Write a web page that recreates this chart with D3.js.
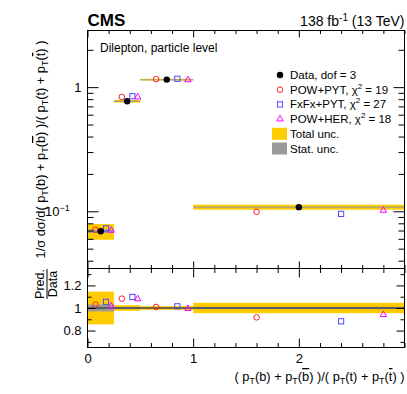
<!DOCTYPE html>
<html>
<head>
<meta charset="utf-8">
<script src="https://cdn.jsdelivr.net/npm/d3@7"></script>
<style>
  body { margin: 0; background: white; }
  svg { font-family: "Liberation Sans", Arial, sans-serif; }
</style>
</head>
<body>
<svg width="407" height="394"></svg>
<script>
// 数据
var binEdges = [0, 0.25, 0.5, 1, 3];
var dataVals = [0.069, 0.77, 1.15, 0.108];
var totUnc = [0.145, 0.025, 0.016, 0.046];
var statUnc = [0.03, 0.01, 0.005, 0.01];
var powPytRatio = [1.03, 1.083, 1.009, 0.917];
var fxfxRatio = [1.055, 1.098, 1.015, 0.882];
var powHerRatio = [1.017, 1.08, 0.995, 0.941];
var modelNames = ['POW+PYT', 'FxFx+PYT', 'POW+HER'];
var chi2Vals = [19, 27, 18];
var xTicks = [0, 1, 2];
var yTicks = [0.1, 1];
var ratioTicks = [0.8, 1, 1.2];

// 一些常量
var LEFT = 87.5, RIGHT = 404.5;
var TOP = 30.5, MID = 268.5, BOTTOM = 347.5;
var POINT_POS = {data: 0.5, pyt: 0.3, fxfx: 0.7, her: 0.9};
var COLORS = {pyt: '#ff2020', fxfx: '#4a4aff', her: '#ff00ff', tot: '#ffcc00', stat: '#999999'};

var svg = d3.select('svg');

var x = d3.scaleLinear().domain([0, 3]).range([LEFT, RIGHT]);
var y = d3.scaleLog().domain([0.0346, 2.86]).range([MID, TOP]);
var yr = d3.scaleLinear().domain([0.65, 1.35]).range([BOTTOM, MID]);

// 每个bin的数据
var bins = dataVals.map(function(v, i) {
    return {lo: binEdges[i], hi: binEdges[i + 1], val: v, tot: totUnc[i], stat: statUnc[i],
        pyt: powPytRatio[i], fxfx: fxfxRatio[i], her: powHerRatio[i]};
});
function px(d, f) { return x(d.lo + (d.hi - d.lo) * f); }

// 不确定度带
function bands(g, yfn, ref) {
    g.selectAll('.tot').data(bins).enter().append('rect')
        .attr('x', function(d) { return x(d.lo); })
        .attr('width', function(d) { return x(d.hi) - x(d.lo); })
        .attr('y', function(d) { return yfn(ref(d) * (1 + d.tot)); })
        .attr('height', function(d) { return yfn(ref(d) * (1 - d.tot)) - yfn(ref(d) * (1 + d.tot)); })
        .attr('fill', COLORS.tot);
    g.selectAll('.stat').data(bins).enter().append('rect')
        .attr('x', function(d) { return x(d.lo); })
        .attr('width', function(d) { return x(d.hi) - x(d.lo); })
        .attr('y', function(d) { return yfn(ref(d) * (1 + d.stat)); })
        .attr('height', function(d) { return Math.max(1, yfn(ref(d) * (1 - d.stat)) - yfn(ref(d) * (1 + d.stat))); })
        .attr('fill', COLORS.stat);
}

var tri = d3.symbol().type(d3.symbolTriangle).size(18);
function markers(g, yfn, ref, withData) {
    g.selectAll('.pyt').data(bins).enter().append('circle')
        .attr('cx', function(d) { return px(d, POINT_POS.pyt); })
        .attr('cy', function(d) { return yfn(ref(d) * d.pyt); })
        .attr('r', 2.8).attr('fill', 'none').attr('stroke', COLORS.pyt);
    g.selectAll('.fxfx').data(bins).enter().append('rect')
        .attr('x', function(d) { return px(d, POINT_POS.fxfx) - 2.6; })
        .attr('y', function(d) { return yfn(ref(d) * d.fxfx) - 2.6; })
        .attr('width', 5.2).attr('height', 5.2).attr('fill', 'none').attr('stroke', COLORS.fxfx);
    g.selectAll('.her').data(bins).enter().append('path')
        .attr('d', tri)
        .attr('transform', function(d) { return 'translate(' + px(d, POINT_POS.her) + ',' + yfn(ref(d) * d.her) + ')'; })
        .attr('fill', 'none').attr('stroke', COLORS.her);
    if (withData) {
        g.selectAll('.dat').data(bins).enter().append('circle')
            .attr('cx', function(d) { return px(d, POINT_POS.data); })
            .attr('cy', function(d) { return yfn(d.val); })
            .attr('r', 3.2).attr('fill', 'black');
    }
}

// 上面板
var up = svg.append('g');
bands(up, y, function(d) { return d.val; });
markers(up, y, function(d) { return d.val; }, true);

// 下面板 (比值)
var lo = svg.append('g');
bands(lo, yr, function(d) { return 1; });
lo.append('line').attr('x1', LEFT).attr('x2', RIGHT).attr('y1', yr(1)).attr('y2', yr(1))
    .attr('stroke', '#222').attr('stroke-width', 1);
markers(lo, yr, function(d) { return 1; }, false);

// 坐标轴
function minorRange(a, b, s) { var r = []; for (var v = a; v <= b + 1e-9; v += s) r.push(+v.toFixed(3)); return r; }
var xMinor = minorRange(0, 3, 0.2).filter(function(v) { return xTicks.indexOf(v) < 0; });
var yMinor = [0.04, 0.05, 0.06, 0.07, 0.08, 0.09, 0.2, 0.3, 0.4, 0.5, 0.6, 0.7, 0.8, 0.9, 2];
var rMinor = [0.7, 0.9, 1.1, 1.3];

function ax(gen, scale, vals, size, tr, fmt) {
    var a = gen(scale).tickValues(vals).tickSize(size).tickPadding(6)
        .tickFormat(fmt || function() { return ''; });
    var g = svg.append('g').attr('transform', tr).call(a);
    g.select('.domain').remove();
    g.selectAll('line').attr('stroke', 'black');
    return g;
}
// x 轴
ax(d3.axisTop, x, xTicks, -7, 'translate(0,' + TOP + ')');
ax(d3.axisTop, x, xMinor, -3.5, 'translate(0,' + TOP + ')');
ax(d3.axisBottom, x, xTicks, -7, 'translate(0,' + MID + ')');
ax(d3.axisBottom, x, xMinor, -3.5, 'translate(0,' + MID + ')');
ax(d3.axisTop, x, xTicks, -9, 'translate(0,' + MID + ')');
ax(d3.axisTop, x, xMinor, -4.5, 'translate(0,' + MID + ')');
var xl = ax(d3.axisBottom, x, xTicks, -9, 'translate(0,' + BOTTOM + ')', d3.format('d'));
xl.selectAll('text').attr('font-size', 13).attr('fill', 'black').attr('font-family', 'Liberation Sans, Arial, sans-serif');
ax(d3.axisBottom, x, xMinor, -4.5, 'translate(0,' + BOTTOM + ')');

// y 轴 (对数)
var yl = ax(d3.axisLeft, y, yTicks, -11, 'translate(' + LEFT + ',0)', function(d) { return d === 1 ? '1' : '10'; });
yl.selectAll('text').attr('font-size', 13).attr('fill', 'black').attr('font-family', 'Liberation Sans, Arial, sans-serif')
    .each(function(d) {
        if (d !== 1) {
            d3.select(this).attr('dx', '-0.9em');
            d3.select(this).append('tspan').attr('dy', -5).attr('font-size', 9).text('\u22121');
        }
    });
ax(d3.axisLeft, y, yMinor, -6, 'translate(' + LEFT + ',0)');
ax(d3.axisRight, y, yTicks, -11, 'translate(' + RIGHT + ',0)');
ax(d3.axisRight, y, yMinor, -6, 'translate(' + RIGHT + ',0)');

// 比值 y 轴
var rl = ax(d3.axisLeft, yr, ratioTicks, -8, 'translate(' + LEFT + ',0)', function(d) { return d === 1 ? '1' : d3.format('.1f')(d); });
rl.selectAll('text').attr('font-size', 13).attr('fill', 'black').attr('font-family', 'Liberation Sans, Arial, sans-serif');
ax(d3.axisLeft, yr, rMinor, -4, 'translate(' + LEFT + ',0)');
ax(d3.axisRight, yr, ratioTicks, -8, 'translate(' + RIGHT + ',0)');
ax(d3.axisRight, yr, rMinor, -4, 'translate(' + RIGHT + ',0)');

// 边框
svg.append('rect').attr('x', LEFT).attr('y', TOP).attr('width', RIGHT - LEFT).attr('height', BOTTOM - TOP)
    .attr('fill', 'none').attr('stroke', 'black').attr('stroke-width', 1);
svg.append('line').attr('x1', LEFT).attr('x2', RIGHT).attr('y1', MID).attr('y2', MID).attr('stroke', 'black');

// 标题文字
svg.append('text').attr('x', LEFT).attr('y', 26).attr('font-size', 17).attr('font-weight', 'bold').text('CMS');
var lumi = svg.append('text').attr('x', RIGHT).attr('y', 26).attr('font-size', 14).attr('text-anchor', 'end');
lumi.append('tspan').text('138 fb');
lumi.append('tspan').attr('dy', -5).attr('font-size', 10).text('-1');
lumi.append('tspan').attr('dy', 5).text(' (13 TeV)');
svg.append('text').attr('x', 100).attr('y', 52).attr('font-size', 12).text('Dilepton, particle level');

// 图例
var LEG_X = 280, LEG_Y = 75, LEG_DY = 14.7;
var leg = svg.append('g').attr('font-size', 11.5);
leg.append('circle').attr('cx', LEG_X).attr('cy', LEG_Y).attr('r', 3.2).attr('fill', 'black');
leg.append('text').attr('x', LEG_X + 10).attr('y', LEG_Y + 4).text('Data, dof = 3');
var keys = ['pyt', 'fxfx', 'her'];
keys.forEach(function(k, i) {
    var cy = LEG_Y + LEG_DY * (i + 1);
    if (k === 'pyt') leg.append('circle').attr('cx', LEG_X).attr('cy', cy).attr('r', 2.8).attr('fill', 'none').attr('stroke', COLORS.pyt);
    if (k === 'fxfx') leg.append('rect').attr('x', LEG_X - 2.6).attr('y', cy - 2.6).attr('width', 5.2).attr('height', 5.2).attr('fill', 'none').attr('stroke', COLORS.fxfx);
    if (k === 'her') leg.append('path').attr('d', tri).attr('transform', 'translate(' + LEG_X + ',' + cy + ')').attr('fill', 'none').attr('stroke', COLORS.her);
    var t = leg.append('text').attr('x', LEG_X + 10).attr('y', cy + 4);
    t.append('tspan').text(modelNames[i] + ', \u03c7');
    t.append('tspan').attr('dy', -5).attr('font-size', 8).text('2');
    t.append('tspan').attr('dy', 5).text(' = ' + chi2Vals[i]);
});
[['Total unc.', COLORS.tot], ['Stat. unc.', COLORS.stat]].forEach(function(e, i) {
    var cy = LEG_Y + LEG_DY * (i + 4);
    leg.append('rect').attr('x', LEG_X - 8).attr('y', cy - 6).attr('width', 15).attr('height', 12).attr('fill', e[1]);
    leg.append('text').attr('x', LEG_X + 10).attr('y', cy + 4).text(e[0]);
});

// 轴标题 (下标用 tspan)
function ptText(t, arg, bar, sz) {
    t.append('tspan').text('p');
    t.append('tspan').attr('dy', 3).attr('font-size', sz * 0.7).text('T');
    t.append('tspan').attr('dy', -3).text('(');
    var a = t.append('tspan').text(arg);
    if (bar) a.style('text-decoration', 'overline');
    t.append('tspan').text(')');
}
function fracTitle(t, sz) {
    t.append('tspan').text('( ');
    ptText(t, 'b', false, sz);
    t.append('tspan').text(' + ');
    ptText(t, 'b', true, sz);
    t.append('tspan').text(' )/( ');
    ptText(t, 't', false, sz);
    t.append('tspan').text(' + ');
    ptText(t, 't', true, sz);
    t.append('tspan').text(' )');
}
var xt = svg.append('text').attr('x', RIGHT).attr('y', 381).attr('font-size', 12.8).attr('text-anchor', 'end');
fracTitle(xt, 12.8);

var yt = svg.append('text').attr('transform', 'translate(45,' + ((TOP + MID) / 2) + ') rotate(-90)')
    .attr('font-size', 12.8).attr('text-anchor', 'middle');
yt.append('tspan').text('1/\u03c3 d\u03c3/d');
fracTitle(yt, 12.8);

// Pred./Data
var rt = svg.append('g').attr('transform', 'translate(47,' + 284 + ') rotate(-90)').attr('font-size', 12.5);
rt.append('text').attr('x', 0).attr('y', -3).attr('text-anchor', 'middle').text('Pred.');
rt.append('line').attr('x1', -15).attr('x2', 15).attr('y1', 0).attr('y2', 0).attr('stroke', 'black');
rt.append('text').attr('x', 0).attr('y', 10).attr('text-anchor', 'middle').text('Data');
</script>
</body>
</html>
